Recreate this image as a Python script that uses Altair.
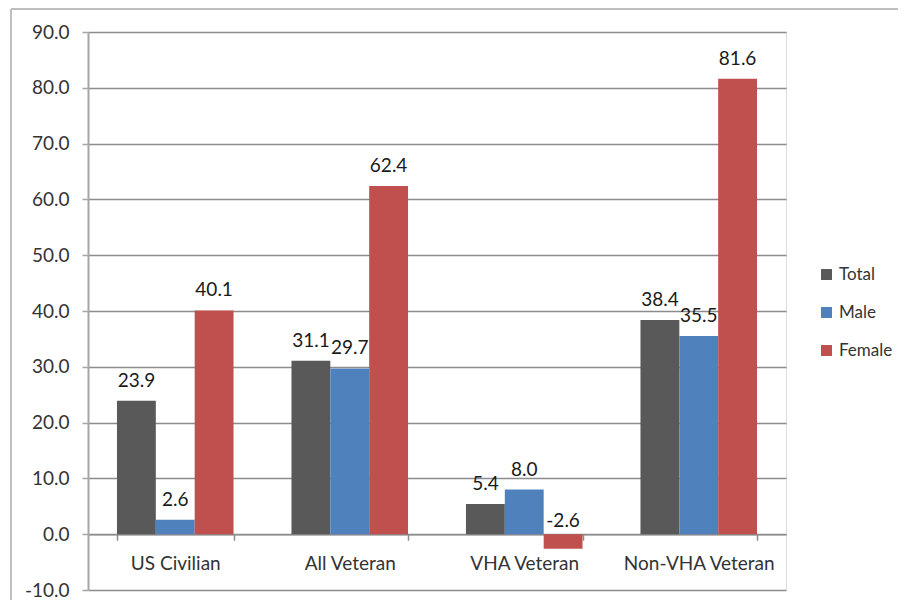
import altair as alt
import pandas as pd

categories = ["US Civilian", "All Veteran", "VHA Veteran", "Non-VHA Veteran"]
series = ["Total", "Male", "Female"]
total = [23.9, 31.1, 5.4, 38.4]
male = [2.6, 29.7, 8.0, 35.5]
female = [40.1, 62.4, -2.6, 81.6]
y_ticks = [-10, 0, 10, 20, 30, 40, 50, 60, 70, 80, 90]
colors = ["#595959", "#4F81BD", "#C0504D"]

rows = []
for i, c in enumerate(categories):
    for s, vals in zip(series, [total, male, female]):
        v = vals[i]
        rows.append({"category": c, "series": s, "value": v, "label": f"{v:.1f}"})
df = pd.DataFrame(rows)

FONT = "Lato"
FS = 19
W, H = 698, 558
zero_off = -H * 10 / 100.0

x_enc = alt.X(
    "category:N",
    sort=categories,
    title="",
    scale=alt.Scale(paddingInner=0.332, paddingOuter=0.166),
    axis=alt.Axis(
        orient="bottom",
        offset=zero_off,
        labelAngle=0,
        tickBand="extent",
        tickSize=6,
        tickColor="#8c8c8c",
        tickWidth=1.5,
        domainColor="#8c8c8c",
        domainWidth=1.5,
        labelPadding=23,
        labelBaseline="middle",
        labelFontSize=FS,
        labelColor="#333333",
        labelFont=FONT,
        grid=False,
    ),
)
xo_enc = alt.XOffset("series:N", sort=series, scale=alt.Scale(paddingInner=0, paddingOuter=0))
y_scale = alt.Scale(domain=[-10, 90], nice=False, zero=False)

bars = alt.Chart(df).mark_bar().encode(
    x=x_enc,
    xOffset=xo_enc,
    y=alt.Y(
        "value:Q",
        title="",
        scale=y_scale,
        axis=alt.Axis(
            values=y_ticks,
            format=".1f",
            labelExpr="replace(datum.label, '\u2212', '-')",
            grid=True,
            gridColor="#8c8c8c",
            gridWidth=1.3,
            tickSize=6,
            tickColor="#a6a6a6",
            tickWidth=1.5,
            domainColor="#a6a6a6",
            domainWidth=2,
            labelPadding=13,
            labelFontSize=FS,
            labelColor="#333333",
            labelFont=FONT,
        ),
    ),
    color=alt.Color(
        "series:N",
        sort=series,
        scale=alt.Scale(domain=series, range=colors),
        legend=alt.Legend(
            title="",
            orient="none",
            legendX=730,
            legendY=234,
            symbolType="square",
            symbolSize=120,
            symbolStrokeWidth=0,
            labelFontSize=17,
            labelFont=FONT,
            labelColor="#333333",
            rowPadding=20,
            labelOffset=4,
        ),
    ),
)

pos_labels = alt.Chart(df).transform_filter("datum.value >= 0").mark_text(
    baseline="middle", dy=-20, fontSize=FS, font=FONT, color="#1a1a1a"
).encode(
    x=x_enc,
    xOffset=xo_enc,
    y=alt.Y("value:Q", scale=y_scale),
    text=alt.Text("label:N"),
)

neg_labels = alt.Chart(df).transform_filter("datum.value < 0").transform_calculate(
    ypos="0"
).mark_text(
    baseline="middle", dy=-13, fontSize=FS, font=FONT, color="#1a1a1a"
).encode(
    x=x_enc,
    xOffset=xo_enc,
    y=alt.Y("ypos:Q", scale=y_scale),
    text=alt.Text("label:N"),
)

frame_data = alt.Data(values=[{"k": 1}])
frame_top = alt.Chart(frame_data).mark_rule(color="#bfbfbf", strokeWidth=2).encode(
    x=alt.value(-77), x2=alt.value(950), y=alt.value(-23)
)
frame_left = alt.Chart(frame_data).mark_rule(color="#bfbfbf", strokeWidth=2).encode(
    x=alt.value(-77), y=alt.value(-23), y2=alt.value(640)
)

chart = alt.layer(bars, pos_labels, neg_labels, frame_top, frame_left).properties(
    width=W,
    height=H,
    autosize=alt.AutoSizeParams(type="none"),
    padding={"left": 80, "top": 24, "right": 112, "bottom": 10},
    background="white",
).configure_view(stroke=None).configure(font=FONT)

chart.save("out.html", embed_options={"renderer": "svg", "actions": False})
